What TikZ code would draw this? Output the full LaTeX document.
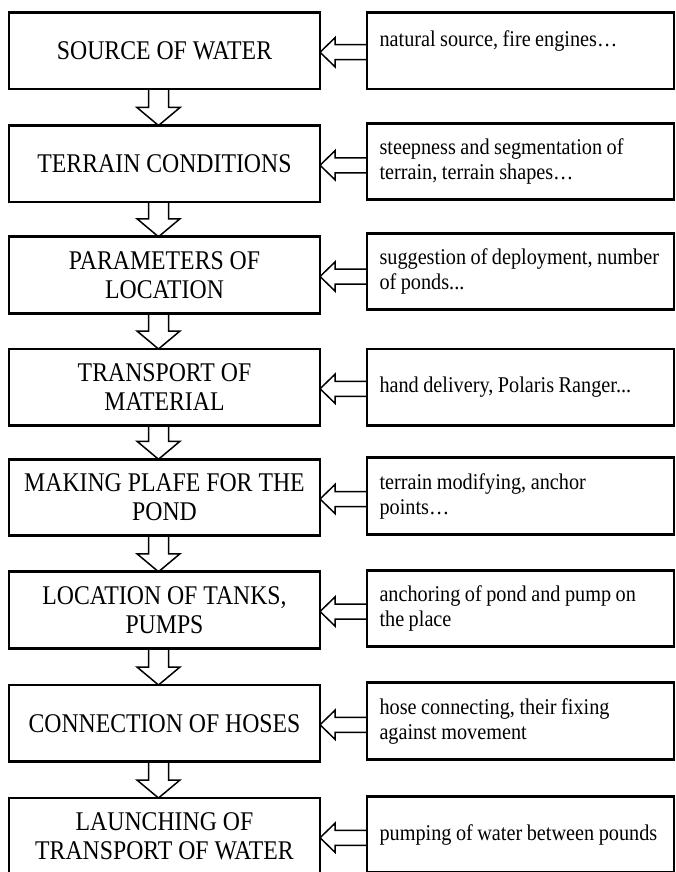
\documentclass[tikz,border=0pt]{standalone}
\usepackage{fontspec}
\setmainfont[FakeStretch=0.88]{Liberation Serif}
\newfontfamily\notefont[FakeStretch=0.9]{Liberation Serif}
\usetikzlibrary{calc}

\tikzset{
	stage/.style={draw, line width=2.7pt, outer sep=0pt, minimum width=311pt, minimum height=76.5pt, inner sep=0pt, align=center, font=\fontsize{27}{29}\selectfont},
	detail/.style={draw, line width=2.7pt, outer sep=0pt, text width=282pt, inner xsep=12.5pt, inner ysep=0pt, minimum height=76.5pt, align=left, font=\notefont\fontsize{22.5}{25}\selectfont, execute at begin node={\spaceskip=0.2em plus 0.05em minus 0.05em\hyphenpenalty=10000}},
	hollow/.style={draw, line width=1.5pt, line join=miter},
}

\begin{document}
\begin{tikzpicture}[x=1pt, y=-1pt]
			\useasboundingbox (0,0) rectangle (675,872);
			\node[stage] (l1) at (164.5, 50.75) {SOURCE OF WATER};
			\node[stage] (l2) at (164.5, 163.75) {TERRAIN CONDITIONS};
			\node[stage] (l3) at (164.5, 275) {PARAMETERS OF\\ LOCATION};
			\node[stage] (l4) at (164.5, 387.25) {TRANSPORT OF\\ MATERIAL};
			\node[stage] (l5) at (164.5, 497.5) {MAKING PLAFE FOR THE\\ POND};
			\node[stage] (l6) at (164.5, 610) {LOCATION OF TANKS,\\ PUMPS};
			\node[stage] (l7) at (164.5, 723.25) {CONNECTION OF HOSES};
			\node[stage] (l8) at (164.5, 836.25) {LAUNCHING OF\\ TRANSPORT OF WATER};
			\node[detail] (r1) at (520.5, 50.75) {natural source, fire engines…\\ \mbox{}};
			\node[detail] (r2) at (520.5, 161.5) {steepness and segmentation of\\ terrain, terrain shapes…};
			\node[detail] (r3) at (520.5, 271.5) {suggestion of deployment, number\\ of ponds...};
			\node[detail] (r4) at (520.5, 387.25) {hand delivery, Polaris Ranger...};
			\node[detail] (r5) at (520.5, 496) {terrain modifying, anchor\\ points…};
			\node[detail] (r6) at (520.5, 608.5) {anchoring of pond and pump on\\ the place};
			\node[detail] (r7) at (520.5, 721) {hose connecting, their fixing\\ against movement};
			\node[detail] (r8) at (520.5, 834.5) {pumping of water between pounds};
			\foreach \i in {1,...,8} {
				\coordinate (t\i) at ($(l\i.east)+(0,1.5)$);
				\coordinate (s\i) at (t\i -| r\i.west);
				\draw[hollow] ($(s\i)+(0,-7.5)$) -- ($(t\i)+(15,-7.5)$) -- ($(t\i)+(15,-14.5)$) -- (t\i) -- ($(t\i)+(15,14.5)$) -- ($(t\i)+(15,7.5)$) -- ($(s\i)+(0,7.5)$);
			}
			\foreach \i in {1,...,7} {
				\pgfmathtruncatemacro\j{\i+1}
				\coordinate (u\i) at ($(l\i.south)+(-6,0)$);
				\coordinate (v\i) at ($(l\j.north)+(-6,0)$);
				\draw[hollow] ($(u\i)+(-10,0)$) -- ($(v\i)+(-10,-18)$) -- ($(v\i)+(-21.5,-18)$) -- (v\i) -- ($(v\i)+(21.5,-18)$) -- ($(v\i)+(10,-18)$) -- ($(u\i)+(10,0)$);
			}
\end{tikzpicture}
\end{document}
